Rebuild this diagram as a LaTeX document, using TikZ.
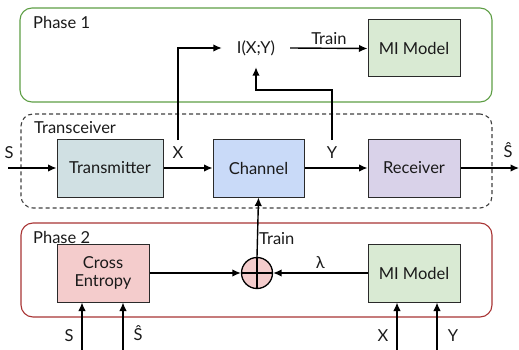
\documentclass[tikz,border=0pt]{standalone}
\usepackage{fontspec}
\setmainfont{Lato}
\usetikzlibrary{arrows.meta,calc}
\definecolor{txfill}{HTML}{D0E0E3}
\definecolor{chfill}{HTML}{C9DAF8}
\definecolor{rxfill}{HTML}{D9D2E9}
\definecolor{cefill}{HTML}{F4CCCC}
\definecolor{mifill}{HTML}{D9EAD3}
\definecolor{greenline}{HTML}{5E9E45}
\definecolor{redline}{HTML}{A83434}
\definecolor{boxline}{HTML}{2A2A2A}
\definecolor{txt}{HTML}{1A1A1A}
\begin{document}
\begin{tikzpicture}[x=1pt,y=-1pt,
  font=\fontsize{16.5}{18.5}\selectfont, text=txt,
  box/.style={draw=boxline, line width=1pt, minimum width=92pt, minimum height=58pt, inner sep=0pt, align=center},
  frame/.style={rounded corners=12pt, line width=1.1pt, inner sep=0pt},
  arr/.style={-{Latex[length=8.5pt,width=7.5pt]}, line width=1.4pt},
  lbl/.style={inner sep=1pt}]
\useasboundingbox (0,0) rectangle (519,350);

% frames
\node[frame, draw=greenline, minimum width=472pt, minimum height=94pt] (ph1) at (256,55) {};
\node[frame, draw=black!75, dashed, dash pattern=on 4pt off 3pt, minimum width=471pt, minimum height=94pt] (trx) at (256.5,161) {};
\node[frame, draw=redline, minimum width=471pt, minimum height=94pt] (ph2) at (256.5,270) {};

\node[lbl, anchor=west] (ph1l) at (32,22) {Phase 1};
\node[lbl, anchor=west] (trxl) at (33,128) {Transceiver};
\node[lbl, anchor=west] (ph2l) at (32,237) {Phase 2};

% phase 1
\node[inner sep=0pt, minimum width=68pt, minimum height=38pt] (ixy) at (256,48) {I(X;Y)};
\node[box, fill=mifill, minimum height=57pt] (mi1) at (414,48.5) {MI Model};

% transceiver
\node[box, fill=txfill, minimum width=106pt] (tx) at (110,168) {Transmitter};
\node[box, fill=chfill, minimum width=91pt] (ch) at (258.5,168) {Channel};
\node[box, fill=rxfill] (rx) at (414,168) {Receiver};

% phase 2
\node[box, fill=cefill] (ce) at (103,273) {Cross\\[-1pt]Entropy};
\node[box, fill=mifill] (mi2) at (414,273) {MI Model};
\node[circle, draw=black, line width=1.3pt, fill=cefill, minimum size=31pt, inner sep=0pt] (plus) at (257,273) {};
\draw[line width=1.3pt] (plus.north) -- (plus.south) (plus.west) -- (plus.east);

% coordinates
\coordinate (sin) at (8,168);
\coordinate (sout) at (519,168);
\coordinate (xa) at (178,140);
\coordinate (ya) at (332,140);
\coordinate (bs) at (82,350);
\coordinate (bsh) at (123,350);
\coordinate (bx) at (397,350);
\coordinate (by) at (437,350);

% connectors
\draw[arr] (sin) -- (tx.west);
\draw[arr] (tx.east) -- (ch.west);
\draw[arr] (ch.east) -- (rx.west);
\draw[arr] (rx.east) -- (sout);
\draw[arr] (xa) |- (ixy.west);
\draw[arr] (ya) -- ++(0,-50) -| (ixy.south);
\draw[arr] (ixy.east) -- node[lbl, above=2pt] (tr1) {Train} (mi1.west);
\draw[arr] (ce.east) -- (plus.west);
\draw[arr] (mi2.west) -- node[lbl, above=3pt] (lam) {λ} (plus.east);
\draw[arr] (plus.north) -- (ch.south);
\node[lbl, anchor=west] (tr2) at (258,239) {Train};
\draw[arr] (bs) -- (bs |- ce.south);
\draw[arr] (bsh) -- (bsh |- ce.south);
\draw[arr] (bx) -- (bx |- mi2.south);
\draw[arr] (by) -- (by |- mi2.south);

% signal labels
\node[lbl] (ls) at (9,153) {S};
\node[lbl] (lx) at (178,153) {X};
\node[lbl] (ly) at (332,153) {Y};
\node[lbl] (lsh) at (508,150) {Ŝ};
\node[lbl] (bls) at (69,336) {S};
\node[lbl] (blsh) at (138,333) {Ŝ};
\node[lbl] (blx) at (383,336) {X};
\node[lbl] (bly) at (453,336) {Y};
\end{tikzpicture}
\end{document}
